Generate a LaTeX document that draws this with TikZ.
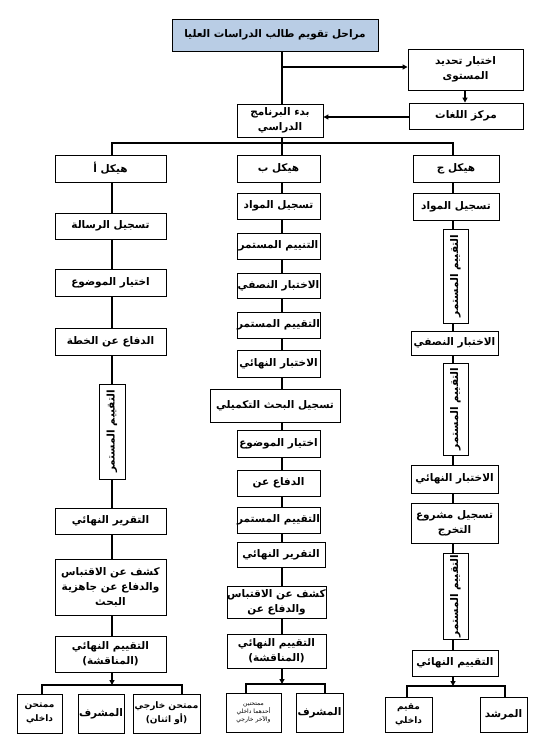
\documentclass[tikz,border=0pt]{standalone}
\usepackage{fontspec}
\usepackage{graphicx}
\usetikzlibrary{arrows.meta}
\TeXXeTstate=1
\newfontfamily\arabicfont[Script=Arabic]{DejaVu Sans}
\newcommand\artxt[1]{\beginR #1\endR}
\newcommand\mkbox[7][]{\node[bx,#1,minimum width={(#5-#3)*1pt},minimum height={(#6-#4)*1pt}] (#2) at ({(#3+#5)/2},{(#4+#6)/2}) {#7};}
\begin{document}
\begin{tikzpicture}[x=1pt,y=-1pt,
  bx/.style={draw,line width=0.9pt,inner sep=0pt,align=center,font=\arabicfont\bfseries\fontsize{10.5}{15}\selectfont},
  ttl/.style={fill=titleblue},
  small/.style={font=\arabicfont\bfseries\fontsize{9}{14}\selectfont},
  tiny/.style={font=\arabicfont\fontsize{6}{8}\selectfont},
  con/.style={line width=1.2pt},
  arr/.style={line width=1.2pt,-{Triangle[length=5pt,width=5pt]}}]
\definecolor{titleblue}{HTML}{B9CDE5}
\useasboundingbox[fill=white] (0,0) rectangle (539,740);
% top area
\mkbox[ttl]{t}{172}{19}{378}{51}{\artxt{مراحل تقويم طالب الدراسات العليا}}
\mkbox{lv}{408}{49}{523}{90}{\artxt{اختبار تحديد}\\\artxt{المستوى}}
\mkbox{lc}{409}{103}{523}{129}{\artxt{مركز اللغات}}
\mkbox{st}{237}{104}{323}{137}{\artxt{بدء البرنامج}\\\artxt{الدراسي}}
% column A
\mkbox{a0}{55}{155}{166}{182}{\artxt{هيكل أ}}
\mkbox{a1}{55}{213}{166}{239}{\artxt{تسجيل الرسالة}}
\mkbox{a2}{55}{269}{166}{296}{\artxt{اختيار الموضوع}}
\mkbox{a3}{55}{328}{166}{355}{\artxt{الدفاع عن الخطة}}
\mkbox{a4}{99}{384}{125}{479}{\rotatebox{90}{\artxt{التقييم المستمر}}}
\mkbox{a5}{55}{508}{166}{534}{\artxt{التقرير النهائي}}
\mkbox{a6}{55}{559}{166}{615}{\artxt{كشف عن الاقتباس}\\\artxt{والدفاع عن جاهزية}\\\artxt{البحث}}
\mkbox{a7}{55}{636}{166}{672}{\artxt{التقييم النهائي}\\\artxt{(المناقشة)}}
\mkbox[small]{a8}{17}{694}{62}{733}{\artxt{ممتحن}\\\artxt{داخلي}}
\mkbox{a9}{78}{694}{124}{733}{\artxt{المشرف}}
\mkbox[small]{a10}{133}{694}{200}{733}{\artxt{ممتحن خارجي}\\\artxt{(أو اثنان)}}
% column B
\mkbox{b0}{237}{155}{320}{182}{\artxt{هيكل ب}}
\mkbox{b1}{237}{193}{320}{219}{\artxt{تسجيل المواد}}
\mkbox{b2}{237}{233}{320}{259}{\artxt{التنييم المستمر}}
\mkbox{b3}{237}{273}{320}{298}{\artxt{الاختبار النصفي}}
\mkbox{b4}{237}{312}{320}{338}{\artxt{التقييم المستمر}}
\mkbox{b5}{237}{350}{320}{377}{\artxt{الاختبار النهائي}}
\mkbox{b6}{210}{389}{340}{422}{\artxt{تسجيل البحث التكميلي}}
\mkbox{b7}{237}{430}{320}{457}{\artxt{اختيار الموضوع}}
\mkbox{b8}{237}{470}{320}{496}{\artxt{الدفاع عن}}
\mkbox{b9}{237}{507}{320}{533}{\artxt{التقييم المستمر}}
\mkbox{b10}{237}{542}{325}{567}{\artxt{التقرير النهائي}}
\mkbox{b11}{227}{586}{326}{618}{\artxt{كشف عن الاقتباس}\\\artxt{والدفاع عن}}
\mkbox{b12}{227}{634}{326}{668}{\artxt{التقييم النهائي}\\\artxt{(المناقشة)}}
\mkbox[tiny]{b13}{226}{693}{281}{732}{\artxt{ممتحنين}\\\artxt{أحدهما داخلي}\\\artxt{والآخر خارجي}}
\mkbox{b14}{296}{693}{343}{732}{\artxt{المشرف}}
% column C
\mkbox{c0}{413}{155}{499}{182}{\artxt{هيكل ج}}
\mkbox{c1}{413}{193}{499}{220}{\artxt{تسجيل المواد}}
\mkbox{c2}{443}{229}{468}{323}{\rotatebox{90}{\artxt{التقييم المستمر}}}
\mkbox{c3}{411}{331}{498}{355}{\artxt{الاختبار النصفي}}
\mkbox{c4}{443}{363}{468}{455}{\rotatebox{90}{\artxt{التقييم المستمر}}}
\mkbox{c5}{411}{465}{498}{493}{\artxt{الاختبار النهائي}}
\mkbox{c6}{411}{503}{498}{543}{\artxt{تسجيل مشروع}\\\artxt{التخرج}}
\mkbox{c7}{443}{553}{468}{639}{\rotatebox{90}{\artxt{التقييم المستمر}}}
\mkbox{c8}{412}{650}{498}{676}{\artxt{التقييم النهائي}}
\mkbox[small]{c9}{385}{697}{432}{732}{\artxt{مقيم}\\\artxt{داخلي}}
\mkbox{c10}{480}{697}{527}{732}{\artxt{المرشد}}
% coordinates
\coordinate (barL) at (112,143);
\coordinate (barM) at (282,143);
\coordinate (barR) at (453,143);
\coordinate (j1) at (282,67);
\coordinate (dx) at (465,0);
\coordinate (ya) at (0,117);
\coordinate (hA) at (112,685);
\coordinate (hAL) at (42,685);
\coordinate (hAR) at (182,685);
\coordinate (hB) at (282,684);
\coordinate (hBL) at (246,684);
\coordinate (hBR) at (325,684);
\coordinate (hC) at (453,686);
\coordinate (hCL) at (407,686);
\coordinate (hCR) at (505,686);
% top connectors
\draw[con] (t.south -| barM) -- (st.north -| barM);
\draw[arr] (j1) -- (lv.west |- j1);
\draw[arr] (lv.south -| dx) -- (lc.north -| dx);
\draw[arr] (lc.west |- ya) -- (st.east |- ya);
\draw[con] (st.south -| barM) -- (barM);
\draw[con] (a0.north -| barL) -- (barL) -- (barR) -- (c0.north -| barR);
\draw[con] (barM) -- (b0.north -| barM);
% column chains
\foreach \u/\v in {a0/a1,a1/a2,a2/a3,a3/a4,a4/a5,a5/a6,a6/a7}
  \draw[con] (\u.south -| barL) -- (\v.north -| barL);
\foreach \u/\v in {b0/b1,b1/b2,b2/b3,b3/b4,b4/b5,b5/b6,b6/b7,b7/b8,b8/b9,b9/b10,b10/b11,b11/b12}
  \draw[con] (\u.south -| barM) -- (\v.north -| barM);
\foreach \u/\v in {c0/c1,c1/c2,c2/c3,c3/c4,c4/c5,c5/c6,c6/c7,c7/c8}
  \draw[con] (\u.south -| barR) -- (\v.north -| barR);
% bottom splits
\draw[arr] (a7.south -| hA) -- (hA);
\draw[con] (a8.north -| hAL) -- (hAL) -- (hAR) -- (a10.north -| hAR);
\draw[arr] (b12.south -| hB) -- (hB);
\draw[con] (b13.north -| hBL) -- (hBL) -- (hBR) -- (b14.north -| hBR);
\draw[arr] (c8.south -| hC) -- (hC);
\draw[con] (c9.north -| hCL) -- (hCL) -- (hCR) -- (c10.north -| hCR);
\end{tikzpicture}
\end{document}
